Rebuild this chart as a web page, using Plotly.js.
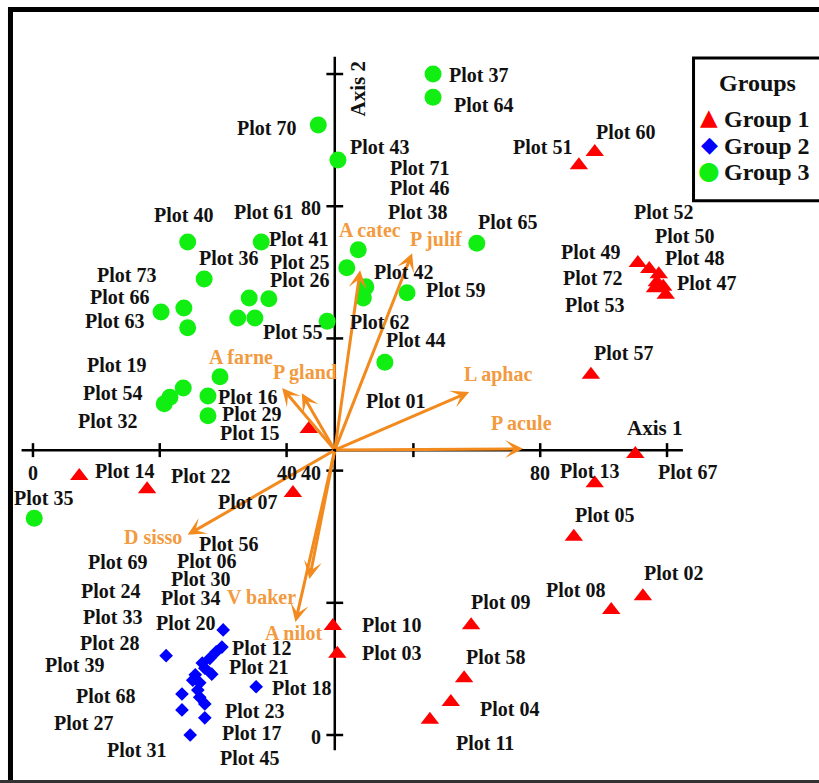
<!DOCTYPE html>
<html>
<head>
<meta charset="utf-8">
<script src="https://cdn.plot.ly/plotly-3.0.1.min.js"></script>
<style>html,body{margin:0;padding:0;background:#fff}#chart{width:819px;height:783px}</style>
</head>
<body>
<div id="chart"></div>
<script>
// ---------- data (CCA ordination scores) ----------
const group1X = [88.6, 86.1, 95.4, 97.2, 98.7, 98.4, 98.1, 99.4, 99.8, 88.0, 95.0, 88.6, 85.3, 91.2, 96.2, 69.1, 68.0, 65.9, 62.6, 47.3, 48.0, 7.3, 18.0, 41.0, 43.5];
const group1Y = [88.2, 86.2, 71.4, 70.5, 69.7, 68.5, 67.6, 67.8, 66.6, 54.5, 42.5, 38.1, 30.0, 18.9, 21.0, 16.6, 8.6, 5.0, 2.3, 16.5, 12.3, 39.2, 37.2, 36.6, 46.3];

const group2X = [30.0, 21.0, 29.8, 28.9, 27.9, 26.7, 25.6, 28.2, 27.1, 26.3, 26.0, 23.5, 27.1, 23.5, 27.1, 24.8, 35.2, 25.2, 26.3];
const group2Y = [15.9, 12.0, 13.3, 12.6, 11.6, 10.9, 9.1, 9.2, 10.1, 7.9, 6.8, 6.2, 4.7, 3.8, 2.6, 0.0, 7.3, 8.3, 5.7];

const group3X = [63.1, 63.1, 45.0, 48.1, 70.0, 24.4, 36.0, 51.3, 49.5, 52.5, 52.1, 59.0, 27.0, 34.1, 37.2, 32.3, 35.0, 46.4, 20.2, 23.8, 24.4, 55.5, 29.5, 23.7, 21.6, 20.7, 27.6, 27.6, 0.2];
const group3Y = [100.0, 96.5, 92.3, 87.0, 74.4, 74.6, 74.6, 73.4, 70.7, 67.8, 66.1, 66.9, 69.0, 66.1, 66.0, 63.1, 63.1, 62.6, 64.0, 64.6, 61.6, 56.4, 54.2, 52.5, 51.1, 50.1, 51.3, 48.3, 32.8];

const groupNames = ["Group 1", "Group 2", "Group 3"];

// plot (site) labels
const plotLabels = ["Plot 70","Plot 43","Plot 40","Plot 61","Plot 41","Plot 36","Plot 25","Plot 26","Plot 42","Plot 59","Plot 62","Plot 55","Plot 44","Plot 71","Plot 46","Plot 38","Plot 65","Plot 37","Plot 64","Plot 60","Plot 51","Plot 52","Plot 50","Plot 49","Plot 48","Plot 72","Plot 47","Plot 53","Plot 57","Plot 13","Plot 67","Plot 05","Plot 02","Plot 08","Plot 09","Plot 58","Plot 04","Plot 11","Plot 10","Plot 03","Plot 73","Plot 66","Plot 63","Plot 19","Plot 54","Plot 32","Plot 16","Plot 29","Plot 15","Plot 01","Plot 14","Plot 22","Plot 07","Plot 35","Plot 56","Plot 69","Plot 06","Plot 30","Plot 24","Plot 34","Plot 33","Plot 20","Plot 28","Plot 12","Plot 39","Plot 21","Plot 18","Plot 68","Plot 23","Plot 27","Plot 17","Plot 31","Plot 45"];
const plotLabelX = [36.9,54.6,23.7,36.3,41.8,30.9,42.0,42.0,58.4,66.7,54.6,41.0,60.3,60.9,60.9,60.7,74.9,70.3,71.0,93.5,80.4,99.5,102.8,88.0,104.4,88.3,106.3,88.5,93.1,87.7,103.2,90.2,101.1,85.5,73.8,72.9,75.1,71.3,56.5,56.5,14.7,13.6,12.8,13.2,12.5,11.8,33.8,34.4,34.2,57.1,14.5,26.5,33.9,1.6,30.9,13.4,27.3,26.5,12.3,24.8,12.6,24.0,12.1,36.1,6.6,35.6,42.3,11.4,35.0,7.9,34.5,16.4,34.1];
const plotLabelY = [91.8,89.0,78.7,79.1,75.0,72.2,71.6,68.8,70.0,67.3,62.5,61.0,59.8,85.8,82.8,79.1,77.6,99.9,95.3,91.2,89.0,79.1,75.5,73.1,72.2,69.1,68.4,65.1,57.8,39.9,39.8,33.3,24.5,21.9,20.1,11.8,3.9,-1.2,16.6,12.4,69.6,66.3,62.6,56.0,51.7,47.5,51.1,48.6,45.7,50.5,39.9,39.2,35.3,35.9,28.9,26.2,26.3,23.6,21.8,20.7,17.9,16.9,13.9,13.2,10.6,10.3,7.1,5.9,3.6,1.8,0.3,-2.3,-3.5];

// environmental / species vectors (arrow tips) and their labels
const envNames = ["A catec","P julif","L aphac","P acule","A farne","P gland","D sisso","V baker","A nilot"];
const envX = [51.6, 59.8, 68.8, 77.3, 39.3, 42.4, 24.4, 43.6, 41.4];
const envY = [70.3, 72.9, 51.9, 43.3, 52.5, 51.7, 30.3, 23.6, 17.1];
const envLabelX = [53.2, 63.6, 73.3, 77.0, 32.8, 42.9, 18.9, 36.0, 41.2];
const envLabelY = [76.4, 74.9, 54.5, 47.2, 57.2, 54.8, 30.0, 20.9, 15.4];

// axes (drawn crossing at the vector origin)
const originX = 47.6, originY = 43.1;
const xTickVals = [0, 20, 40, 60, 80, 100];
const xTickText = ["0", "", "40", "", "80", ""];
const yTickVals = [0, 20, 40, 60, 80, 100];
const yTickText = ["0", "", "40", "", "80", ""];

// ---------- styling ----------
const serif = "Liberation Serif, Times New Roman, serif";
const orangeLine = "#F28A1E";
const orangeText = "#F39A3E";

const traces = [];
// axis lines
traces.push({x: [-1.8, 102.5], y: [originY, originY], mode: "lines", line: {color: "#000", width: 2.5}, showlegend: false, hoverinfo: "skip"});
traces.push({x: [originX, originX], y: [-2.3, 102.6], mode: "lines", line: {color: "#000", width: 2.5}, showlegend: false, hoverinfo: "skip"});
// tick marks
traces.push({x: xTickVals, y: xTickVals.map(() => originY), mode: "markers", marker: {symbol: "line-ns", size: 10, line: {width: 2.5, color: "#000"}}, showlegend: false, hoverinfo: "skip"});
traces.push({x: yTickVals.map(() => originX), y: yTickVals, mode: "markers", marker: {symbol: "line-ew", size: 12, line: {width: 2.5, color: "#000"}}, showlegend: false, hoverinfo: "skip"});

// groups
traces.push({x: group1X, y: group1Y, name: groupNames[0], mode: "markers", marker: {symbol: "triangle-up", size: 16, color: "#FF0000", line: {width: 0}}, showlegend: false});
traces.push({x: group2X, y: group2Y, name: groupNames[1], mode: "markers", marker: {symbol: "diamond", size: 10.5, color: "#0000FF", line: {width: 0}}, showlegend: false});
traces.push({x: group3X, y: group3Y, name: groupNames[2], mode: "markers", marker: {symbol: "circle", size: 17, color: "#11EE11", line: {width: 0}}, showlegend: false});

const annotations = [];
// vectors
envNames.forEach((n, i) => {
  annotations.push({x: envX[i], y: envY[i], ax: originX, ay: originY, xref: "x", yref: "y", axref: "x", ayref: "y",
    text: "", showarrow: true, arrowhead: 3, arrowsize: 1.0, arrowwidth: 3, arrowcolor: orangeLine});
});
envNames.forEach((n, i) => {
  annotations.push({x: envLabelX[i], y: envLabelY[i], xref: "x", yref: "y", text: n, showarrow: false,
    font: {family: serif, size: 20, color: orangeText, weight: "bold"}});
});
// plot labels
plotLabels.forEach((t, i) => {
  annotations.push({x: plotLabelX[i], y: plotLabelY[i], xref: "x", yref: "y", text: t, showarrow: false,
    font: {family: serif, size: 20, color: "#111", weight: "bold"}});
});
// tick labels
xTickVals.forEach((v, i) => {
  if (xTickText[i]) annotations.push({x: v, y: 39.6, xref: "x", yref: "y", text: xTickText[i], showarrow: false,
    font: {family: serif, size: 20, color: "#111", weight: "bold"}});
});
yTickVals.forEach((v, i) => {
  if (yTickText[i]) annotations.push({x: 45.8, y: v - 0.3, xref: "x", yref: "y", text: yTickText[i], showarrow: false, xanchor: "right",
    font: {family: serif, size: 20, color: "#111", weight: "bold"}});
});
// axis titles
annotations.push({x: 98.1, y: 46.4, xref: "x", yref: "y", text: "Axis 1", showarrow: false,
  font: {family: serif, size: 21, color: "#111", weight: "bold"}});
annotations.push({x: 51.3, y: 97.7, xref: "x", yref: "y", text: "Axis 2", showarrow: false, textangle: -90,
  font: {family: serif, size: 21, color: "#111", weight: "bold"}});

// legend (drawn manually so the keys sit next to the text as in the original)
const legendColors = ["#FF0000", "#0000FF", "#11EE11"];
const legendGlyphs = ["\u25B2", "\u25C6", "\u25CF"];
const legendGlyphSize = [23, 22, 25];
annotations.push({x: 0.9243, y: 0.894, xref: "paper", yref: "paper", xanchor: "center", yanchor: "middle", text: "Groups", showarrow: false,
  font: {family: serif, size: 24, color: "#111", weight: "bold"}});
const legendRowY = [0.848, 0.8135, 0.7803];
groupNames.forEach((g, i) => {
  annotations.push({x: 0.8657, y: legendRowY[i] + 0.002, xref: "paper", yref: "paper", xanchor: "center", yanchor: "middle", showarrow: false,
    text: legendGlyphs[i], font: {family: "DejaVu Sans", size: legendGlyphSize[i], color: legendColors[i]}});
  annotations.push({x: 0.8815, y: legendRowY[i], xref: "paper", yref: "paper", xanchor: "left", yanchor: "middle", showarrow: false,
    text: g, font: {family: serif, size: 24, color: "#111", weight: "bold"}});
});

const layout = {
  width: 819, height: 783,
  margin: {l: 0, r: 0, t: 0, b: 0},
  paper_bgcolor: "#fff", plot_bgcolor: "#fff",
  xaxis: {range: [-5.2, 123.97], visible: false, fixedrange: true},
  yaxis: {range: [-7.26, 111.2], visible: false, fixedrange: true},
  showlegend: false,
  annotations: annotations,
  shapes: [
    {type: "line", xref: "paper", yref: "paper", x0: 0.0128, x1: 1.02, y0: 0.988, y1: 0.988, line: {color: "#000", width: 5}},
    {type: "line", xref: "paper", yref: "paper", x0: 0.0128, x1: 0.0128, y0: 0.0, y1: 0.991, line: {color: "#000", width: 5}},
    {type: "line", xref: "paper", yref: "paper", x0: 0.0, x1: 1.02, y0: 0.0019, y1: 0.0019, line: {color: "#333", width: 3}},
    {type: "rect", xref: "paper", yref: "paper", x0: 0.8468, x1: 1.02, y0: 0.7435, y1: 0.926, line: {color: "#000", width: 3}}
  ]
};

Plotly.newPlot("chart", traces, layout, {staticPlot: true, displayModeBar: false});
</script>
</body>
</html>
